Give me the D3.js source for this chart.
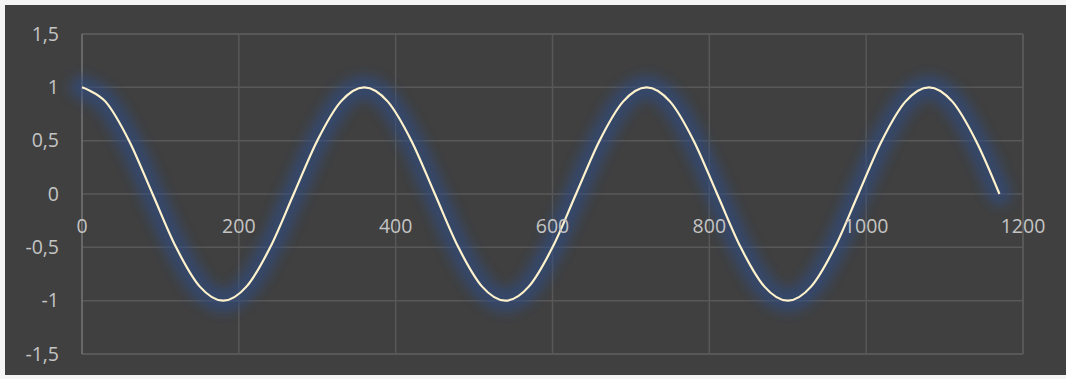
<!DOCTYPE html>
<html>
<head>
<meta charset="utf-8">
<script src="https://cdn.jsdelivr.net/npm/d3@7"></script>
<style>
  html, body { margin: 0; padding: 0; background: #ffffff; }
  svg { display: block; }
</style>
</head>
<body>
<svg id="chart" width="1066" height="379"></svg>
<script>
// Angle in degrees and its cosine, sampled every 30 degrees
const angles = [0, 30, 60, 90, 120, 150, 180, 210, 240, 270, 300, 330,
  360, 390, 420, 450, 480, 510, 540, 570, 600, 630, 660, 690,
  720, 750, 780, 810, 840, 870, 900, 930, 960, 990, 1020, 1050,
  1080, 1110, 1140, 1170];
const cosValues = [1, 0.866, 0.5, 0, -0.5, -0.866, -1, -0.866, -0.5, 0, 0.5, 0.866,
  1, 0.866, 0.5, 0, -0.5, -0.866, -1, -0.866, -0.5, 0, 0.5, 0.866,
  1, 0.866, 0.5, 0, -0.5, -0.866, -1, -0.866, -0.5, 0, 0.5, 0.866,
  1, 0.866, 0.5, 0];
const xTicks = [0, 200, 400, 600, 800, 1000, 1200];
const yTicks = [-1.5, -1, -0.5, 0, 0.5, 1, 1.5];

const svg = d3.select("#chart");
const W = 1066, H = 379;

// thin light frame around the chart area
svg.append("rect").attr("x", 0).attr("y", 0).attr("width", W).attr("height", H)
  .attr("fill", "#f4f4f4");
// chart area background
svg.append("rect").attr("x", 5).attr("y", 5).attr("width", W - 5).attr("height", 370)
  .attr("fill", "#404040");

const x = d3.scaleLinear().domain([0, 1200]).range([82, 1023]);
const y = d3.scaleLinear().domain([-1.5, 1.5]).range([354, 34]);

const fmt = d => d3.format("")(d).replace(".", ",").replace("−", "-");

// horizontal gridlines
svg.append("g").selectAll("line").data(yTicks).join("line")
  .attr("x1", x(0)).attr("x2", x(1200))
  .attr("y1", d => y(d)).attr("y2", d => y(d))
  .attr("stroke", "#585858")
  .attr("stroke-width", d => (d === 1.5 || d === -1.5) ? 2 : 1.5);

// vertical gridlines
svg.append("g").selectAll("line").data(xTicks.filter(d => d > 0)).join("line")
  .attr("x1", d => x(d)).attr("x2", d => x(d))
  .attr("y1", y(1.5)).attr("y2", y(-1.5))
  .attr("stroke", "#585858")
  .attr("stroke-width", d => d === 1200 ? 2 : 1.5);

// vertical value axis line
svg.append("line")
  .attr("x1", x(0)).attr("x2", x(0)).attr("y1", y(1.5)).attr("y2", y(-1.5))
  .attr("stroke", "#767676").attr("stroke-width", 1.5);

// soft glow filter
const defs = svg.append("defs");
defs.append("filter").attr("id", "glow")
  .attr("x", "-10%").attr("y", "-40%").attr("width", "120%").attr("height", "180%")
  .append("feGaussianBlur").attr("stdDeviation", 6);

const line = d3.line()
  .x((d, i) => x(angles[i]))
  .y(d => y(d))
  .curve(d3.curveCardinal.tension(0));

svg.append("path").datum(cosValues)
  .attr("d", line)
  .attr("fill", "none")
  .attr("stroke", "#2f4b86")
  .attr("stroke-width", 24)
  .attr("stroke-opacity", 0.6)
  .attr("stroke-linecap", "round")
  .attr("stroke-linejoin", "round")
  .attr("filter", "url(#glow)");

svg.append("path").datum(cosValues)
  .attr("d", line)
  .attr("fill", "none")
  .attr("stroke", "#fff2cc")
  .attr("stroke-width", 2.2)
  .attr("stroke-linejoin", "round");

// axis labels
const font = "'Open Sans', 'Noto Sans', sans-serif";
svg.append("g").selectAll("text").data(yTicks).join("text")
  .attr("x", 59).attr("y", d => y(d))
  .attr("dy", "0.35em")
  .attr("text-anchor", "end")
  .attr("font-family", font).attr("font-size", 19.5)
  .attr("fill", "#c4c4c4")
  .text(fmt);

svg.append("g").selectAll("text").data(xTicks).join("text")
  .attr("x", d => x(d)).attr("y", 233)
  .attr("text-anchor", "middle")
  .attr("font-family", font).attr("font-size", 19.5)
  .attr("fill", "#c4c4c4")
  .text(fmt);
</script>
</body>
</html>
